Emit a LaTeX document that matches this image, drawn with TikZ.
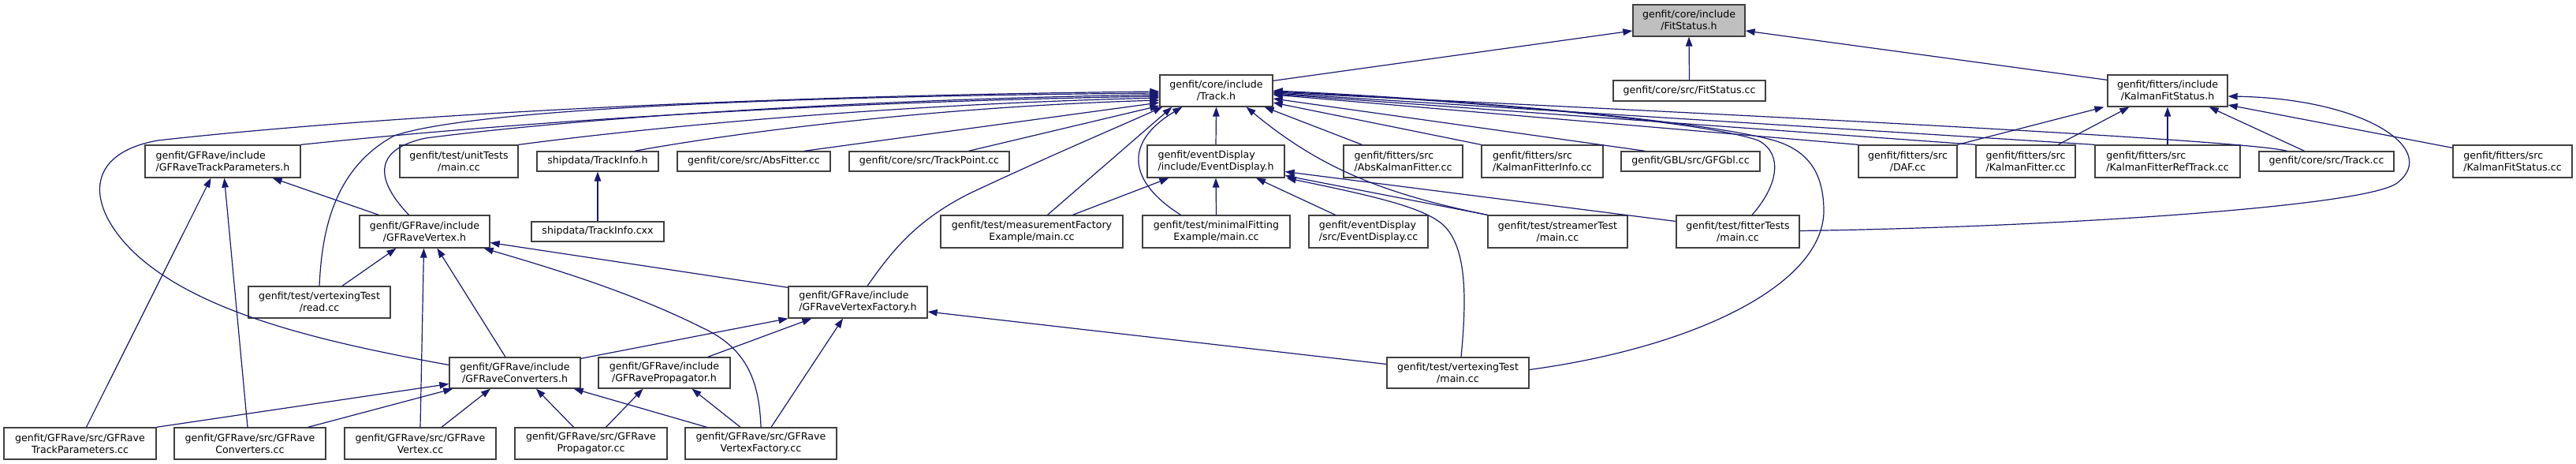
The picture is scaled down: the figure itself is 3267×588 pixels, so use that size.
\documentclass[tikz,border=0pt]{standalone}
\usepackage{fontspec}
\setmainfont{DejaVu Sans}
\usetikzlibrary{arrows.meta,calc}
\definecolor{edgec}{HTML}{191970}
\definecolor{boxc}{HTML}{404040}
\definecolor{fillg}{HTML}{BFBFBF}
\begin{document}
\begin{tikzpicture}[x=1pt,y=-1pt,
  box/.style={draw=boxc, line width=1.3pt, fill=white, inner sep=0pt, text=black,
    font=\fontsize{12.6}{15}\selectfont},
  edge/.style={edgec, line width=1.2pt, -{Triangle[length=12pt,width=8.5pt]}}]
\useasboundingbox (0,0) rectangle (3267,588);
% top row
\node[box, fill=fillg, minimum width=142pt, minimum height=40pt, align=center] (fitstatush) at (2142,26) {genfit/core/include\\/FitStatus.h};
\node[box, minimum width=143pt, minimum height=40pt, align=center] (trackh) at (1542.5,115) {genfit/core/include\\/Track.h};
\node[box, minimum width=193pt, minimum height=26pt, align=center] (fitstatuscc) at (2142.5,115) {genfit/core/src/FitStatus.cc};
\node[box, minimum width=152pt, minimum height=40pt, align=center] (kfsh) at (2749,115) {genfit/fitters/include\\/KalmanFitStatus.h};
% second row
\node[box, minimum width=197pt, minimum height=41pt, align=left] (gfrtph) at (282.5,204.5) {genfit/GFRave/include\\/GFRaveTrackParameters.h};
\node[box, minimum width=150pt, minimum height=41pt, align=center] (unittests) at (582,204.5) {genfit/test/unitTests\\/main.cc};
\node[box, minimum width=154pt, minimum height=25pt, align=center] (trackinfoh) at (758,204.5) {shipdata/TrackInfo.h};
\node[box, minimum width=194pt, minimum height=25pt, align=center] (absfitter) at (956,204.5) {genfit/core/src/AbsFitter.cc};
\node[box, minimum width=203pt, minimum height=25pt, align=center] (trackpoint) at (1178.5,204.5) {genfit/core/src/TrackPoint.cc};
\node[box, minimum width=174pt, minimum height=41pt, align=left] (edh) at (1542,204.5) {genfit/eventDisplay\\/include/EventDisplay.h};
\node[box, minimum width=151pt, minimum height=41pt, align=left] (abskalman) at (1779.5,204.5) {genfit/fitters/src\\/AbsKalmanFitter.cc};
\node[box, minimum width=154pt, minimum height=41pt, align=left] (kfinfo) at (1956,204.5) {genfit/fitters/src\\/KalmanFitterInfo.cc};
\node[box, minimum width=176pt, minimum height=25pt, align=center] (gfgbl) at (2144,204.5) {genfit/GBL/src/GFGbl.cc};
\node[box, minimum width=125pt, minimum height=41pt, align=center] (daf) at (2419.5,204.5) {genfit/fitters/src\\/DAF.cc};
\node[box, minimum width=126pt, minimum height=41pt, align=left] (kfitter) at (2569,204.5) {genfit/fitters/src\\/KalmanFitter.cc};
\node[box, minimum width=184pt, minimum height=41pt, align=left] (kfreftrack) at (2749,204.5) {genfit/fitters/src\\/KalmanFitterRefTrack.cc};
\node[box, minimum width=171pt, minimum height=25pt, align=center] (trackcc) at (2950.5,204.5) {genfit/core/src/Track.cc};
\node[box, minimum width=151pt, minimum height=41pt, align=left] (kfscc) at (3186.5,204.5) {genfit/fitters/src\\/KalmanFitStatus.cc};
% third row
\node[box, minimum width=165pt, minimum height=41pt, align=center] (gfrvertexh) at (538.5,293.5) {genfit/GFRave/include\\/GFRaveVertex.h};
\node[box, minimum width=168pt, minimum height=25pt, align=center] (trackinfocxx) at (758,293.5) {shipdata/TrackInfo.cxx};
\node[box, minimum width=231pt, minimum height=41pt, align=center] (measfact) at (1308.5,293.5) {genfit/test/measurementFactory\\Example/main.cc};
\node[box, minimum width=187pt, minimum height=41pt, align=center] (minfit) at (1542.5,293.5) {genfit/test/minimalFitting\\Example/main.cc};
\node[box, minimum width=151pt, minimum height=41pt, align=left] (edcc) at (1735.5,293.5) {genfit/eventDisplay\\/src/EventDisplay.cc};
\node[box, minimum width=177pt, minimum height=41pt, align=center] (streamer) at (1975.5,293.5) {genfit/test/streamerTest\\/main.cc};
\node[box, minimum width=156pt, minimum height=41pt, align=center] (fittertests) at (2204,293.5) {genfit/test/fitterTests\\/main.cc};
% fourth row
\node[box, minimum width=180pt, minimum height=40pt, align=center] (readcc) at (405,383) {genfit/test/vertexingTest\\/read.cc};
\node[box, minimum width=176pt, minimum height=40pt, align=left] (gfrvfh) at (1088,383) {genfit/GFRave/include\\/GFRaveVertexFactory.h};
% fifth row
\node[box, minimum width=166pt, minimum height=39pt, align=center] (gfrconvh) at (653,472.5) {genfit/GFRave/include\\/GFRaveConverters.h};
\node[box, minimum width=167pt, minimum height=39pt, align=center] (gfrproph) at (842.5,472.5) {genfit/GFRave/include\\/GFRavePropagator.h};
\node[box, minimum width=180pt, minimum height=39pt, align=center] (vtmain) at (1849,472.5) {genfit/test/vertexingTest\\/main.cc};
% bottom row
\node[box, minimum width=193pt, minimum height=40pt, align=center] (srctp) at (101.5,562) {genfit/GFRave/src/GFRave\\TrackParameters.cc};
\node[box, minimum width=192pt, minimum height=40pt, align=center] (srcconv) at (317,562) {genfit/GFRave/src/GFRave\\Converters.cc};
\node[box, minimum width=192pt, minimum height=40pt, align=center] (srcvertex) at (533,562) {genfit/GFRave/src/GFRave\\Vertex.cc};
\node[box, minimum width=193pt, minimum height=40pt, align=center] (srcprop) at (749.5,562) {genfit/GFRave/src/GFRave\\Propagator.cc};
\node[box, minimum width=192pt, minimum height=40pt, align=center] (srcvf) at (965,562) {genfit/GFRave/src/GFRave\\VertexFactory.cc};

% ---- edges into FitStatus.h
\draw[edge] ($(trackh.north east)+(0,8)$) -- ($(fitstatush.west)+(0,13)$);
\draw[edge] (fitstatuscc.north) -- (fitstatush.south);
\draw[edge] ($(kfsh.north west)+(0,7)$) -- ($(fitstatush.east)+(0,13)$);

% ---- edges into Track.h, left side
\draw[edge] ($(gfrconvh.west)+(0,-10)$) .. controls (400,432) and (250,395) .. (170,320)
  .. controls (110,262) and (105,195) .. (200,178)
  .. controls (450,150) and (900,122) .. ($(trackh.west)+(0,1)$);
\draw[edge] (readcc.north) .. controls (408,300) and (420,215) .. (500,172)
  .. controls (600,138) and (1000,122) .. ($(trackh.west)+(0,3)$);
\draw[edge] ($(gfrvertexh.north)+(-20,0)$) .. controls (478,230) and (470,190) .. (540,175)
  .. controls (750,148) and (1100,126) .. ($(trackh.west)+(0,5)$);
\draw[edge] (gfrtph.north east) .. controls (700,150) and (1100,128) .. ($(trackh.west)+(0,7)$);
\draw[edge] (unittests.north east) .. controls (850,158) and (1150,132) .. ($(trackh.west)+(0,9)$);
\draw[edge] ($(trackinfoh.north)+(47,0)$) .. controls (950,165) and (1200,135) .. ($(trackh.west)+(0,12)$);
\draw[edge] ($(absfitter.north)+(64,0)$) -- ($(trackh.west)+(0,15)$);
\draw[edge] ($(trackpoint.north)+(50,0)$) -- ($(trackh.west)+(0,19)$);
\draw[edge] ($(gfrvfh.north)+(12,0)$) .. controls (1130,320) and (1160,280) .. (1230,245)
  .. controls (1330,198) and (1420,160) .. ($(trackh.south west)+(4,0)$);
\draw[edge] ($(measfact.north)+(20,0)$) -- ($(trackh.south west)+(16,0)$);
\draw[edge] ($(minfit.north)+(-45,0)$) .. controls (1430,230) and (1425,180) .. ($(trackh.south west)+(29,0)$);
% below / right
\draw[edge] (edh.north) -- (trackh.south);
\draw[edge] (streamer.north west) .. controls (1750,245) and (1670,210) .. ($(trackh.south east)+(-34,0)$);
\draw[edge] ($(abskalman.north west)+(24,0)$) -- ($(trackh.south east)+(-11,0)$);
\draw[edge] (kfinfo.north west) -- ($(trackh.east)+(0,15)$);
\draw[edge] ($(gfgbl.north west)+(31,0)$) -- ($(trackh.east)+(0,10)$);
\draw[edge] (daf.north west) -- ($(trackh.east)+(0,5)$);
\draw[edge] (kfitter.north west) -- ($(trackh.east)+(0,4)$);
\draw[edge] (kfreftrack.north west) -- ($(trackh.east)+(0,3)$);
\draw[edge] ($(trackcc.north)+(-50,0)$) .. controls (2850,178) and (2300,150) .. ($(trackh.east)+(0,2)$);
\draw[edge] ($(fittertests.north)+(18,0)$) .. controls (2255,235) and (2262,195) .. (2230,178)
  .. controls (2150,150) and (1800,124) .. ($(trackh.east)+(0,1)$);
\draw[edge] ($(vtmain.east)+(0,-4)$) .. controls (2150,440) and (2315,360) .. (2313,265)
  .. controls (2312,215) and (2290,190) .. (2250,178)
  .. controls (2150,150) and (1800,123) .. (trackh.east);

% ---- edges into KalmanFitStatus.h
\draw[edge] (daf.north east) -- ($(kfsh.south west)+(-4,0)$);
\draw[edge] ($(kfitter.north)+(41,0)$) -- ($(kfsh.south west)+(28,0)$);
\draw[edge] (kfreftrack.north) -- (kfsh.south);
\draw[edge] ($(trackcc.north)+(-28,0)$) -- ($(kfsh.south east)+(-24,0)$);
\draw[edge] ($(kfscc.north west)+(0,4)$) -- ($(kfsh.east)+(0,18)$);
\draw[edge] ($(fittertests.east)+(0,-1)$) .. controls (2600,288) and (3000,262) .. (3040,232)
  .. controls (3095,190) and (3000,125) .. ($(kfsh.east)+(0,7)$);

% ---- edges into EventDisplay.h
\draw[edge] ($(measfact.north)+(52,0)$) -- ($(edh.south west)+(28,0)$);
\draw[edge] (minfit.north) -- (edh.south);
\draw[edge] ($(edcc.north)+(-42,0)$) -- ($(edh.south)+(51,0)$);
\draw[edge] (streamer.north west) -- ($(edh.east)+(0,18)$);
\draw[edge] ($(fittertests.west)+(0,-13)$) -- ($(edh.east)+(0,13)$);
\draw[edge] ($(vtmain.north)+(4,0)$) .. controls (1860,380) and (1860,320) .. (1835,290)
  .. controls (1815,265) and (1750,250) .. ($(edh.south east)+(2,0)$);

% ---- shipdata
\draw[edge] (trackinfocxx.north) -- (trackinfoh.south);

% ---- edges into GFRaveTrackParameters.h
\draw[edge] ($(gfrvertexh.north west)+(25,0)$) -- ($(gfrtph.south east)+(-36,0)$);
\draw[edge] ($(srctp.north)+(8,0)$) -- ($(gfrtph.south)+(-15,0)$);
\draw[edge] ($(srcconv.north)+(-3,0)$) -- ($(gfrtph.south)+(2,0)$);

% ---- edges into GFRaveVertex.h
\draw[edge] ($(readcc.north)+(29,0)$) -- ($(gfrvertexh.south)+(-36,0)$);
\draw[edge] (srcvertex.north) -- ($(gfrvertexh.south)+(-1,0)$);
\draw[edge] ($(gfrconvh.north)+(-12,0)$) -- ($(gfrvertexh.south)+(16,0)$);
\draw[edge] ($(gfrvfh.north west)+(0,2)$) -- ($(gfrvertexh.east)+(0,14)$);
\draw[edge] (srcvf.north) .. controls (963,480) and (945,440) .. (890,415)
  .. controls (800,370) and (700,340) .. ($(gfrvertexh.south east)+(-8,0)$);

% ---- edges into GFRaveVertexFactory.h
\draw[edge] ($(gfrconvh.north east)+(0,2)$) -- (gfrvfh.south west);
\draw[edge] ($(gfrproph.north east)+(-29,0)$) -- ($(gfrvfh.south west)+(30,0)$);
\draw[edge] ($(srcvf.north)+(13,0)$) -- ($(gfrvfh.south)+(-19,0)$);
\draw[edge] ($(vtmain.west)+(0,-11)$) -- ($(gfrvfh.east)+(0,12)$);

% ---- edges into GFRaveConverters.h
\draw[edge] (srctp.north east) -- ($(gfrconvh.west)+(0,14)$);
\draw[edge] ($(srcconv.north east)+(-23,0)$) -- ($(gfrconvh.south west)+(5,0)$);
\draw[edge] ($(srcvertex.north)+(27,0)$) -- ($(gfrconvh.south)+(-31,0)$);
\draw[edge] ($(srcprop.north)+(-22,0)$) -- ($(gfrconvh.south)+(27,0)$);
\draw[edge] ($(srcvf.north west)+(28,0)$) -- ($(gfrconvh.south east)+(-9,0)$);

% ---- edges into GFRavePropagator.h
\draw[edge] ($(srcprop.north)+(19,0)$) -- ($(gfrproph.south)+(-27,0)$);
\draw[edge] ($(srcvf.north)+(-26,0)$) -- ($(gfrproph.south)+(35,0)$);
\end{tikzpicture}
\end{document}
